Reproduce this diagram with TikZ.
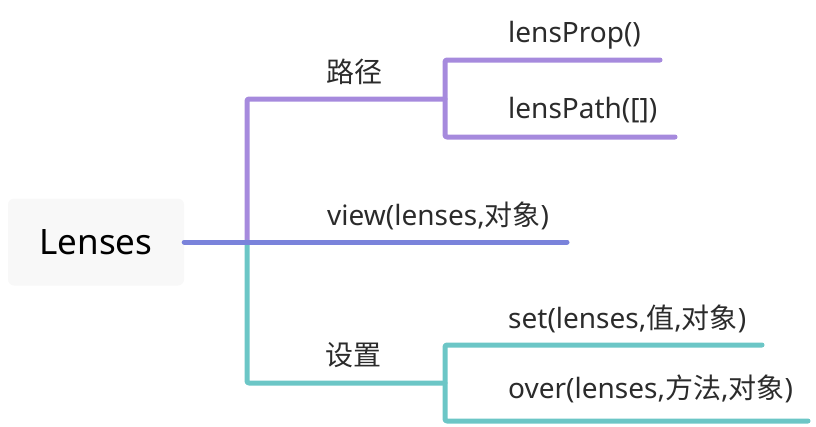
\documentclass[tikz,border=0pt]{standalone}
\usepackage{fontspec}
\setmainfont{Noto Sans}
\newfontfamily\cjk{Noto Sans CJK SC}
\definecolor{pathpurple}{HTML}{A68ADD}
\definecolor{viewblue}{HTML}{7A83DB}
\definecolor{setteal}{HTML}{6CC6C6}
\definecolor{rootgray}{HTML}{F8F8F8}
\definecolor{labelgray}{HTML}{2B2B2B}
\tikzset{
  branch/.style={line width=5pt, line cap=round, line join=round, rounded corners=2pt},
  leaf/.style={font=\fontsize{28}{31}\selectfont, text=labelgray, anchor=west, inner sep=0pt},
}

\begin{document}
\begin{tikzpicture}[x=1pt,y=-1pt]
    \useasboundingbox (0,0) rectangle (816,426);
    \node[fill=rootgray, rounded corners=6pt, minimum width=176pt, minimum height=87pt,
          font=\fontsize{35}{40}\selectfont] (lenses) at (96,242) {Lenses};

    % forks and free ends
    \coordinate (hub) at (247,242);
    \coordinate (pathfork) at (445,99);
    \coordinate (setfork) at (445,383);
    \coordinate (propend) at (660,60);
    \coordinate (lpathend) at (675,137);
    \coordinate (viewend) at (567,242);
    \coordinate (setend) at (762,345);
    \coordinate (overend) at (808,421);

    \draw[branch, pathpurple] (hub) |- (pathfork);
    \draw[branch, pathpurple] (propend) -| (pathfork) |- (lpathend);
    \draw[branch, setteal] (hub) |- (setfork);
    \draw[branch, setteal] (setend) -| (setfork) |- (overend);
    \draw[branch, viewblue] (lenses.east) -- (viewend);

    \node[leaf] (path) at (326,72) {\cjk 路径};
    \node[leaf] (prop) at (508,35) {lensProp()};
    \node[leaf] (lpath) at (508,110) {lensPath([])};
    \node[leaf] (view) at (327,216) {view(lenses,{\cjk 对象})};
    \node[leaf] (setting) at (325,355) {\cjk 设置};
    \node[leaf] (set) at (508,319) {set(lenses,{\cjk 值},{\cjk 对象})};
    \node[leaf] (over) at (508,389) {over(lenses,{\cjk 方法},{\cjk 对象})};
\end{tikzpicture}
\end{document}
